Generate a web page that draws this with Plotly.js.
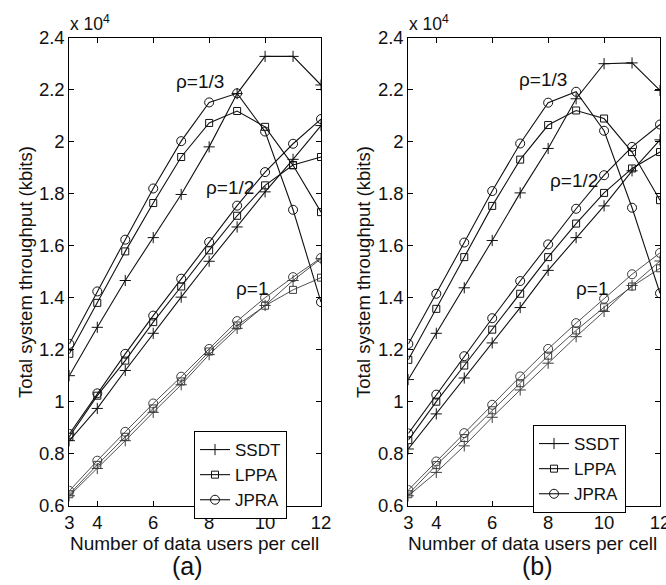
<!DOCTYPE html>
<html>
<head>
<meta charset="utf-8">
<script src="https://cdn.plot.ly/plotly-3.0.1.min.js"></script>
<style>
  html, body { margin: 0; padding: 0; background: #fff; }
  #chart { width: 666px; height: 585px; }
</style>
</head>
<body>
<div id="chart"></div>
<script>
// Number of data users per cell
const users = [3, 4, 5, 6, 7, 8, 9, 10, 11, 12];
const xTicks = [3, 4, 6, 8, 10, 12];
const yTicks = [0.6, 0.8, 1.0, 1.2, 1.4, 1.6, 1.8, 2.0, 2.2, 2.4];
const yTickText = ['0.6', '0.8', '1', '1.2', '1.4', '1.6', '1.8', '2', '2.2', '2.4'];
const methods = ['SSDT', 'LPPA', 'JPRA'];
const rhoLabels = ['\u03c1=1/3', '\u03c1=1/2', '\u03c1=1'];

// Total system throughput, in units of 10^4 kbits — panel (a)
const a_SSDT_r13 = [1.100, 1.286, 1.466, 1.631, 1.797, 1.980, 2.185, 2.328, 2.328, 2.218];
const a_LPPA_r13 = [1.184, 1.380, 1.578, 1.764, 1.941, 2.072, 2.118, 2.057, 1.909, 1.729];
const a_JPRA_r13 = [1.222, 1.424, 1.623, 1.820, 2.002, 2.151, 2.186, 2.039, 1.738, 1.383];
const a_SSDT_r12 = [0.850, 0.974, 1.120, 1.263, 1.402, 1.540, 1.672, 1.807, 1.932, 2.062];
const a_LPPA_r12 = [0.865, 1.023, 1.158, 1.306, 1.443, 1.582, 1.715, 1.832, 1.910, 1.941];
const a_JPRA_r12 = [0.876, 1.032, 1.184, 1.331, 1.473, 1.614, 1.754, 1.883, 1.992, 2.087];
const a_SSDT_r1  = [0.638, 0.743, 0.850, 0.959, 1.065, 1.181, 1.282, 1.370, 1.466, 1.550];
const a_LPPA_r1  = [0.644, 0.757, 0.865, 0.974, 1.078, 1.193, 1.293, 1.369, 1.430, 1.477];
const a_JPRA_r1  = [0.657, 0.773, 0.884, 0.993, 1.096, 1.203, 1.310, 1.400, 1.479, 1.553];

// Panel (b)
const b_SSDT_r13 = [1.085, 1.263, 1.438, 1.620, 1.803, 1.974, 2.165, 2.300, 2.303, 2.197];
const b_LPPA_r13 = [1.161, 1.357, 1.556, 1.753, 1.931, 2.064, 2.120, 2.089, 1.960, 1.775];
const b_JPRA_r13 = [1.222, 1.415, 1.612, 1.810, 1.993, 2.150, 2.192, 2.042, 1.746, 1.417];
const b_SSDT_r12 = [0.818, 0.953, 1.091, 1.226, 1.362, 1.505, 1.631, 1.753, 1.888, 2.007];
const b_LPPA_r12 = [0.852, 1.000, 1.139, 1.277, 1.415, 1.556, 1.685, 1.803, 1.897, 1.960];
const b_JPRA_r12 = [0.878, 1.027, 1.175, 1.321, 1.464, 1.605, 1.742, 1.871, 1.980, 2.066];
const b_SSDT_r1  = [0.638, 0.728, 0.830, 0.940, 1.045, 1.148, 1.250, 1.347, 1.447, 1.541];
const b_LPPA_r1  = [0.644, 0.756, 0.860, 0.967, 1.071, 1.177, 1.274, 1.363, 1.443, 1.513];
const b_JPRA_r1  = [0.660, 0.770, 0.879, 0.988, 1.097, 1.203, 1.302, 1.396, 1.490, 1.572];

const FONT = 'Liberation Sans, Arial, Helvetica, sans-serif';
const INK = '#111111';

// marker per scheme
const markerStyle = {
  SSDT: { symbol: 'cross-thin-open', size: 8 },
  LPPA: { symbol: 'square-open', size: 7 },
  JPRA: { symbol: 'circle-open', size: 9 }
};

const panels = [
  { xa: 'x', ya: 'y', legend: 'legend',
    groups: [
      { SSDT: a_SSDT_r13, LPPA: a_LPPA_r13, JPRA: a_JPRA_r13 },
      { SSDT: a_SSDT_r12, LPPA: a_LPPA_r12, JPRA: a_JPRA_r12 },
      { SSDT: a_SSDT_r1,  LPPA: a_LPPA_r1,  JPRA: a_JPRA_r1 }
    ] },
  { xa: 'x2', ya: 'y2', legend: 'legend2',
    groups: [
      { SSDT: b_SSDT_r13, LPPA: b_LPPA_r13, JPRA: b_JPRA_r13 },
      { SSDT: b_SSDT_r12, LPPA: b_LPPA_r12, JPRA: b_JPRA_r12 },
      { SSDT: b_SSDT_r1,  LPPA: b_LPPA_r1,  JPRA: b_JPRA_r1 }
    ] }
];

const traces = [];
panels.forEach((p, pi) => {
  methods.forEach(m => {
    p.groups.forEach((g, gi) => {
      const light = gi === 2;
      const col = light ? '#3c3c3c' : INK;
      traces.push({
        type: 'scatter', mode: 'lines+markers',
        x: users, y: g[m],
        xaxis: p.xa, yaxis: p.ya,
        name: m, legend: p.legend,
        legendgroup: 'p' + pi + m,
        showlegend: gi === 1,
        line: { color: col, width: light ? 0.9 : 1.1 },
        marker: { symbol: markerStyle[m].symbol, size: markerStyle[m].size,
                  color: col, line: { color: col, width: 1 } },
        hoverinfo: 'skip'
      });
    });
  });
});

function xAxis(domain, anchor) {
  return {
    domain: domain, anchor: anchor, range: [3, 12],
    tickmode: 'array', tickvals: xTicks, ticktext: xTicks.map(String),
    ticks: 'inside', ticklen: 5, tickwidth: 1, tickcolor: '#000',
    showline: true, linecolor: '#000', linewidth: 1, mirror: 'ticks',
    showgrid: false, zeroline: false, ticklabeloverflow: 'allow',
    tickfont: { family: FONT, size: 18.5, color: INK }
  };
}
function yAxis(anchor) {
  return {
    domain: [0.1356, 0.9356], anchor: anchor, range: [0.6, 2.4],
    tickmode: 'array', tickvals: yTicks, ticktext: yTickText,
    ticks: 'inside', ticklen: 5, tickwidth: 1, tickcolor: '#000',
    showline: true, linecolor: '#000', linewidth: 1, mirror: 'ticks',
    showgrid: false, zeroline: false, ticklabeloverflow: 'allow',
    tickfont: { family: FONT, size: 18.5, color: INK }
  };
}

const W = 666, H = 585;
const px = v => v / W;
const py = v => (H - v) / H;

const annotations = [];
function label(text, x, y, opts) {
  annotations.push(Object.assign({
    text: text, xref: 'paper', yref: 'paper', x: px(x), y: py(y),
    showarrow: false, xanchor: 'center', yanchor: 'middle',
    font: { family: FONT, size: 18.5, color: INK }
  }, opts || {}));
}

// axis titles, panel captions and scale notes
label('Total system throughput (kbits)', 25, 272, { textangle: -90 });
label('Total system throughput (kbits)', 363, 272, { textangle: -90 });
label('Number of data users per cell', 194, 543, { font: { family: FONT, size: 19, color: INK } });
label('Number of data users per cell', 532, 543, { font: { family: FONT, size: 19, color: INK } });
label('(a)', 187, 566, { font: { family: FONT, size: 25, color: INK } });
label('(b)', 537, 566, { font: { family: FONT, size: 25, color: INK } });
label('x 10<sup>4</sup>', 68, 36, { xanchor: 'left', yanchor: 'bottom', font: { family: FONT, size: 17.5, color: INK } });
label('x 10<sup>4</sup>', 407, 36, { xanchor: 'left', yanchor: 'bottom', font: { family: FONT, size: 17.5, color: INK } });

// spreading-factor group labels placed in data coordinates
const rhoPosA = [[7.67, 2.233], [8.73, 1.825], [9.53, 1.435]];
const rhoPosB = [[7.80, 2.239], [8.91, 1.852], [9.56, 1.437]];
rhoLabels.forEach((t, i) => {
  annotations.push({ text: t, xref: 'x', yref: 'y', x: rhoPosA[i][0], y: rhoPosA[i][1],
    showarrow: false, font: { family: FONT, size: 19, color: INK } });
  annotations.push({ text: t, xref: 'x2', yref: 'y2', x: rhoPosB[i][0], y: rhoPosB[i][1],
    showarrow: false, font: { family: FONT, size: 19, color: INK } });
});

function legendBox(x, y) {
  return {
    x: px(x), y: py(y), xanchor: 'left', yanchor: 'top',
    bgcolor: '#fff', bordercolor: '#000', borderwidth: 1,
    font: { family: FONT, size: 17, color: INK },
    itemwidth: 30, tracegroupgap: 0, traceorder: 'normal'
  };
}

const layout = {
  width: W, height: H,
  margin: { l: 0, r: 0, t: 0, b: 0 },
  paper_bgcolor: '#fff', plot_bgcolor: '#fff',
  xaxis: xAxis([0.1041, 0.4820], 'y'),
  yaxis: yAxis('x'),
  xaxis2: xAxis([0.6131, 0.9910], 'y2'),
  yaxis2: yAxis('x2'),
  legend: legendBox(194, 431),
  legend2: legendBox(533, 425),
  annotations: annotations,
  showlegend: true
};

Plotly.newPlot('chart', traces, layout, { staticPlot: true, displayModeBar: false });
</script>
</body>
</html>
